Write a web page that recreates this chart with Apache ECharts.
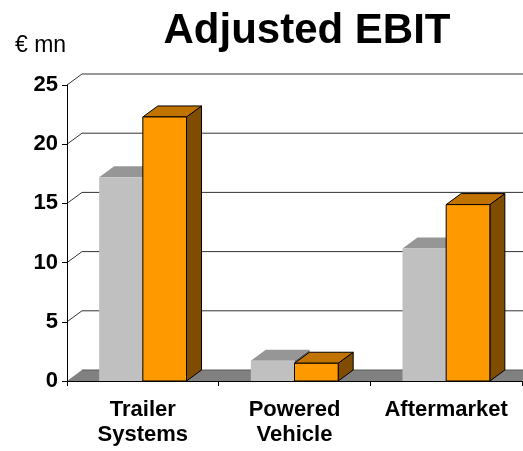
<!DOCTYPE html>
<html>
<head>
<meta charset="utf-8">
<title>Adjusted EBIT</title>
<script src="https://cdn.jsdelivr.net/npm/echarts@6/dist/echarts.min.js"></script>
<style>
  html, body { margin: 0; padding: 0; background: #fff; }
  #chart { width: 523px; height: 451px; }
</style>
</head>
<body>
<div id="chart"></div>
<script>
// Segment names (x axis) and the two bar series, in € mn
const categories = ['Trailer\nSystems', 'Powered\nVehicle', 'Aftermarket'];
const greySeries = [17.2, 1.7, 11.2];
const orangeSeries = [22.3, 1.5, 14.9];
// Value axis ticks
const yTicks = [0, 5, 10, 15, 20, 25];

// Pseudo-3D depth offset (px) and bar width as a share of one category band
const DX = 15, DY = -11;
const BAR_FRAC = 0.288;
const FONT = '"Liberation Sans", Arial, sans-serif';

const chart = echarts.init(document.getElementById('chart'), null, { renderer: 'canvas' });

// Floor plate plus the back-wall gridlines, each joined to the front axis by a diagonal
function wallRenderer(params, api) {
  const cs = params.coordSys;
  const v = api.value(1);
  const y = api.coord([0, v])[1];
  const left = cs.x, right = cs.x + cs.width;
  if (v === 0) {
    return {
      type: 'group',
      children: [
        { type: 'polygon',
          shape: { points: [[left, y], [right, y], [right + DX, y + DY], [left + DX, y + DY]] },
          style: { fill: '#808080', stroke: null } },
        { type: 'polyline',
          shape: { points: [[left + DX, y + DY], [right + DX, y + DY]] },
          style: { stroke: '#5a5a5a', lineWidth: 1, fill: null } }
      ]
    };
  }
  return {
    type: 'polyline',
    shape: { points: [[left, y], [left + DX, y + DY], [right + DX, y + DY]] },
    style: { stroke: '#333', lineWidth: 1, fill: null }
  };
}

// A box-shaped column: front face, top and right side
function barRenderer(side, colors, stroke) {
  return function (params, api) {
    const cat = api.value(0), v = api.value(1);
    const top = api.coord([cat, v]);
    const base = api.coord([cat, 0]);
    const band = api.size([1, 0])[0];
    const w = band * BAR_FRAC;
    const x0 = side < 0 ? top[0] - w : top[0];
    const x1 = x0 + w;
    const yt = top[1], yb = base[1];
    const lw = stroke ? 1 : 0;
    return {
      type: 'group',
      children: [
        { type: 'polygon',
          shape: { points: [[x1, yt], [x1 + DX, yt + DY], [x1 + DX, yb + DY], [x1, yb]] },
          style: { fill: colors.side, stroke: stroke, lineWidth: lw } },
        { type: 'polygon',
          shape: { points: [[x0, yt], [x1, yt], [x1 + DX, yt + DY], [x0 + DX, yt + DY]] },
          style: { fill: colors.top, stroke: stroke, lineWidth: lw } },
        { type: 'rect',
          shape: { x: x0, y: yt, width: w, height: yb - yt },
          style: { fill: colors.front, stroke: stroke, lineWidth: lw } }
      ]
    };
  };
}

const option = {
  animation: false,
  backgroundColor: '#fff',
  title: {
    text: 'Adjusted EBIT',
    left: 302,
    top: 5,
    textAlign: 'center',
    textStyle: { fontFamily: FONT, fontSize: 42, fontWeight: 'bold', color: '#000' }
  },
  graphic: [{
    type: 'text',
    left: 15,
    top: 34,
    style: { text: '€ mn', font: '23px ' + FONT, fill: '#000' }
  }],
  grid: { left: 67, right: 1, top: 85, bottom: 70, containLabel: false },
  xAxis: {
    type: 'category',
    data: categories,
    boundaryGap: true,
    z: 5,
    axisLine: { show: true, lineStyle: { color: '#000', width: 1 } },
    axisTick: { show: true, length: 5, alignWithLabel: false, lineStyle: { color: '#000' } },
    axisLabel: {
      interval: 0,
      margin: 16,
      color: '#000',
      fontFamily: FONT,
      fontSize: 22,
      fontWeight: 'bold',
      lineHeight: 25
    },
    splitLine: { show: false }
  },
  yAxis: {
    type: 'value',
    min: 0,
    max: 25,
    interval: 5,
    z: 5,
    axisLine: { show: true, lineStyle: { color: '#000', width: 1 } },
    axisTick: { show: true, length: 5, lineStyle: { color: '#000' } },
    axisLabel: {
      margin: 9,
      color: '#000',
      fontFamily: FONT,
      fontSize: 22,
      fontWeight: 'bold'
    },
    splitLine: { show: false }
  },
  series: [
    {
      type: 'custom',
      name: 'wall',
      z: 1,
      clip: false,
      silent: true,
      renderItem: wallRenderer,
      encode: { x: 0, y: 1 },
      data: yTicks.map(v => [0, v])
    },
    {
      type: 'custom',
      name: 'grey',
      z: 2,
      clip: false,
      renderItem: barRenderer(-1, { front: '#C0C0C0', top: '#969696', side: '#606060' }, null),
      encode: { x: 0, y: 1 },
      data: greySeries.map((v, i) => [i, v])
    },
    {
      type: 'custom',
      name: 'orange',
      z: 3,
      clip: false,
      renderItem: barRenderer(1, { front: '#FF9900', top: '#C07300', side: '#804C00' }, '#000'),
      encode: { x: 0, y: 1 },
      data: orangeSeries.map((v, i) => [i, v])
    }
  ]
};

chart.setOption(option);
</script>
</body>
</html>
